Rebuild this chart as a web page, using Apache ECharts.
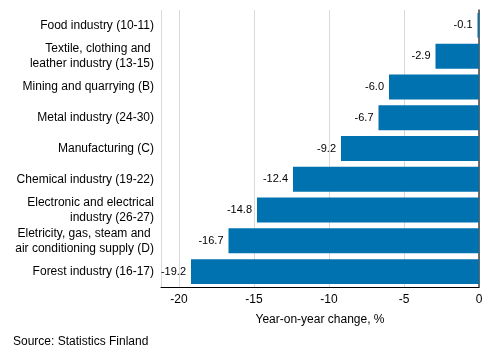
<!DOCTYPE html>
<html>
<head>
<meta charset="utf-8">
<script src="https://cdn.jsdelivr.net/npm/echarts@6/dist/echarts.min.js"></script>
<style>html,body{margin:0;padding:0;background:#fff}#c{width:493px;height:360px}</style>
</head>
<body>
<div id="c"></div>
<script>
const categories = [
  "Food industry (10-11)",
  "Textile, clothing and \nleather industry (13-15)",
  "Mining and quarrying (B)",
  "Metal industry (24-30)",
  "Manufacturing (C)",
  "Chemical industry (19-22)",
  "Electronic and electrical\nindustry (26-27)",
  "Eletricity, gas, steam and \nair conditioning supply (D)",
  "Forest industry (16-17)"
];
const values = [-0.1, -2.9, -6.0, -6.7, -9.2, -12.4, -14.8, -16.7, -19.2];
const xTicks = [-20, -15, -10, -5, 0];

const chart = echarts.init(document.getElementById('c'), null, {renderer: 'canvas'});
const font = 'Arial, "Liberation Sans", sans-serif';
chart.setOption({
  animation: false,
  textStyle: {fontFamily: font},
  grid: {left: 161, right: 14, top: 10, bottom: 73, containLabel: false},
  xAxis: {
    type: 'value',
    min: -21.2, max: 0,
    name: 'Year-on-year change, %',
    nameLocation: 'middle',
    nameGap: 27,
    nameTextStyle: {color: '#000', fontSize: 12, fontFamily: font},
    axisLine: {show: true, onZero: false, lineStyle: {color: '#000', width: 1}},
    axisTick: {show: false},
    axisLabel: {color: '#000', fontSize: 12, fontFamily: font, margin: 7, customValues: xTicks},
    splitLine: {show: true, lineStyle: {color: '#d9d9d9', width: 1}},
    customValues: xTicks
  },
  yAxis: [{
    type: 'category',
    data: categories,
    inverse: true,
    position: 'right',
    axisLine: {show: true, onZero: false, lineStyle: {color: '#404040', width: 1.5}},
    axisTick: {show: false},
    axisLabel: {show: false},
    splitLine: {show: false}
  }, {
    type: 'category', data: categories, inverse: true, position: 'left',
    axisLine: {show: false}, axisTick: {show: false}, splitLine: {show: false},
    axisLabel: {color: '#000', fontSize: 12, fontFamily: font, margin: 7, lineHeight: 15, align: 'right'}
  }],
  series: [{
    type: 'bar',
    data: values,
    yAxisIndex: 0,
    barCategoryGap: '19%',
    itemStyle: {color: '#0072b0'},
    label: {
      show: true, position: 'left', distance: 5,
      color: '#000', fontSize: 11, fontFamily: font,
      formatter: p => p.value.toFixed(1)
    }
  }],
  graphic: [{
    type: 'text', left: 13, top: 336,
    style: {text: 'Source: Statistics Finland', fill: '#000', font: '12px ' + font}
  }]
});
</script>
</body>
</html>
